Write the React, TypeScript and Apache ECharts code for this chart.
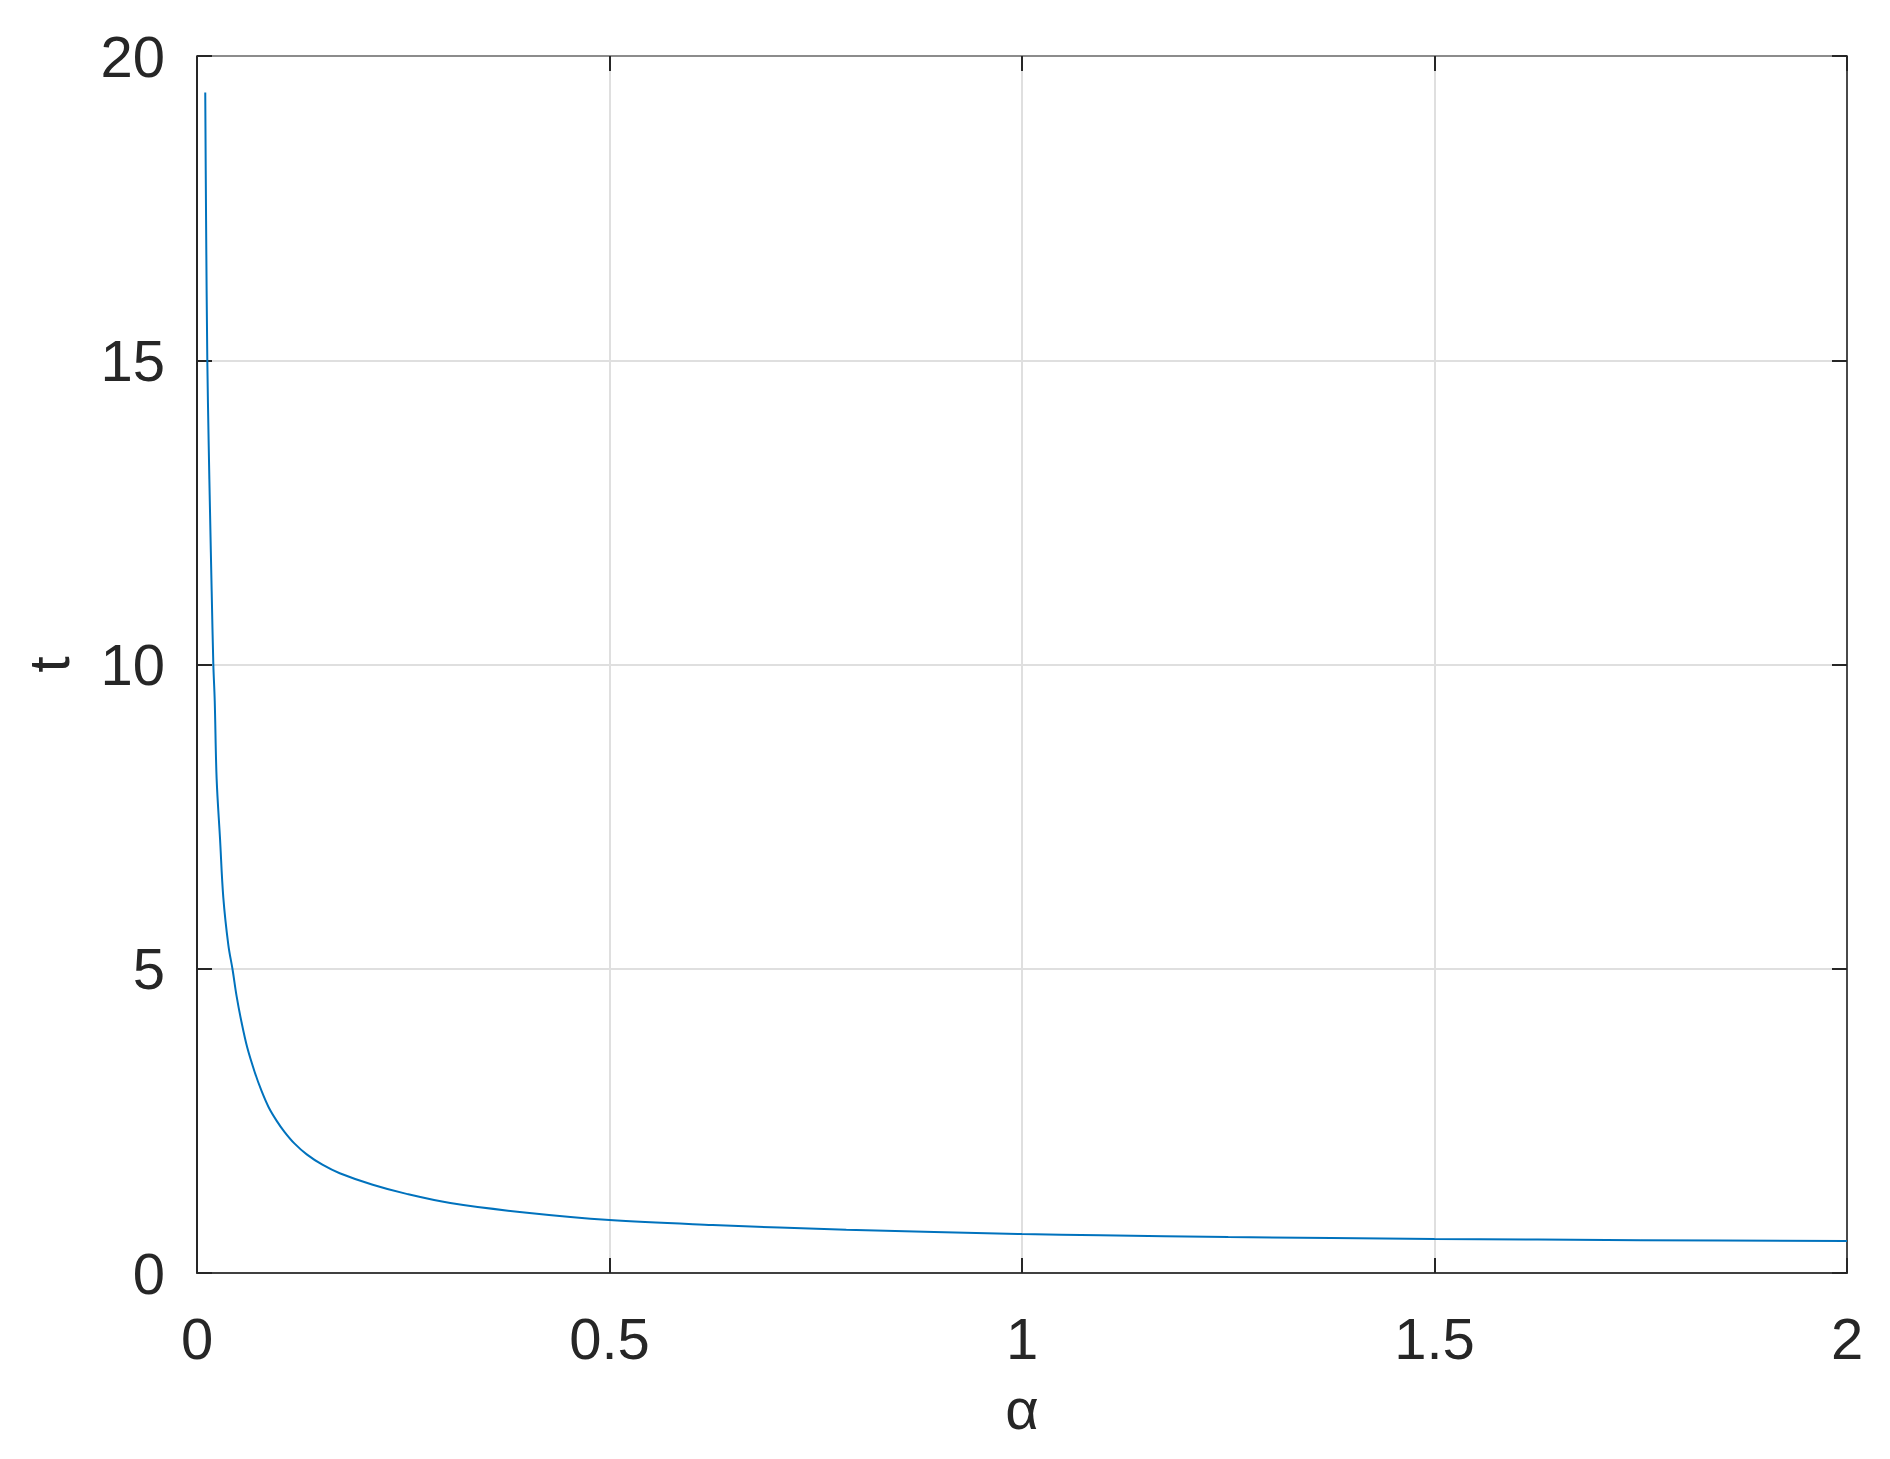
import React, { useEffect, useRef } from "react";
import * as echarts from "echarts";

// Values (α, t)
const alphaValues = [
  0.01, 0.011, 0.0125, 0.0142, 0.0158, 0.0178, 0.0198, 0.0215, 0.0238, 0.0279,
  0.0319, 0.038, 0.0432, 0.048, 0.054, 0.061, 0.07, 0.078, 0.087, 0.0966,
  0.106, 0.118, 0.133, 0.152, 0.173, 0.213, 0.254, 0.307, 0.4, 0.5,
  0.625, 0.787, 1.0, 1.095, 1.25, 1.5, 1.75, 2.0,
];
const tValues = [
  19.4, 17.3, 15.0, 13.6, 12.5, 11.2, 10.0, 9.4, 8.12, 7.14,
  6.17, 5.39, 4.98, 4.55, 4.12, 3.7, 3.3, 3.0, 2.72, 2.5,
  2.32, 2.13, 1.95, 1.78, 1.64, 1.45, 1.3, 1.15, 0.99, 0.87,
  0.79, 0.71, 0.64, 0.62, 0.59, 0.56, 0.54, 0.525,
];
const xTickLabels = ["0", "0.5", "1", "1.5", "2"];
const yTickLabels = ["0", "5", "10", "15", "20"];
const xAxisTitle = "α";
const yAxisTitle = "t";

const FONT = "'Liberation Sans', Arial, Helvetica, sans-serif";
const TEXT = "#262626";

export default function App() {
  const ref = useRef<HTMLDivElement>(null);
  useEffect(() => {
    document.body.style.margin = "0";
    const chart = echarts.init(ref.current!, null, { renderer: "svg" });
    const data = alphaValues.map((a, i) => [a, tValues[i]]);
    const xMin = Number(xTickLabels[0]);
    const xMax = Number(xTickLabels[xTickLabels.length - 1]);
    const xInt = Number(xTickLabels[1]) - xMin;
    const yMin = Number(yTickLabels[0]);
    const yMax = Number(yTickLabels[yTickLabels.length - 1]);
    const yInt = Number(yTickLabels[1]) - yMin;
    const tick = (show: boolean) => ({
      show,
      inside: true,
      length: 15,
      lineStyle: { color: TEXT, width: 2 },
    });
    chart.setOption({
      animation: false,
      backgroundColor: "#ffffff",
      grid: {
        left: 197,
        top: 56,
        right: 43,
        bottom: 186,
        containLabel: false,
        outerBoundsMode: "none",
      },
      xAxis: [
        {
          type: "value",
          min: xMin,
          max: xMax,
          interval: xInt,
          position: "bottom",
          name: xAxisTitle,
          nameLocation: "middle",
          nameGap: 106,
          nameTextStyle: { color: TEXT, fontSize: 58, fontFamily: FONT },
          axisLine: { show: true, onZero: false, lineStyle: { color: "#404040", width: 2 } },
          axisTick: tick(true),
          axisLabel: {
            color: TEXT,
            fontSize: 58,
            fontFamily: FONT,
            margin: 36,
            formatter: (v: number) => xTickLabels[Math.round((v - xMin) / xInt)] ?? "",
          },
          splitLine: { show: true, lineStyle: { color: "#dfdfdf", width: 2 } },
        },
        {
          type: "value",
          min: xMin,
          max: xMax,
          interval: xInt,
          position: "top",
          axisLine: { show: true, onZero: false, lineStyle: { color: "#8c8c8c", width: 2 } },
          axisTick: tick(true),
          axisLabel: { show: false },
          splitLine: { show: false },
        },
      ],
      yAxis: [
        {
          type: "value",
          min: yMin,
          max: yMax,
          interval: yInt,
          position: "left",
          name: yAxisTitle,
          nameLocation: "middle",
          nameRotate: 90,
          nameGap: 120,
          nameTextStyle: { color: TEXT, fontSize: 58, fontFamily: FONT },
          axisLine: { show: true, onZero: false, lineStyle: { color: TEXT, width: 2 } },
          axisTick: tick(true),
          axisLabel: {
            color: TEXT,
            fontSize: 58,
            fontFamily: FONT,
            margin: 32,
            formatter: (v: number) => yTickLabels[Math.round((v - yMin) / yInt)] ?? "",
          },
          splitLine: { show: true, lineStyle: { color: "#dfdfdf", width: 2 } },
        },
        {
          type: "value",
          min: yMin,
          max: yMax,
          interval: yInt,
          position: "right",
          axisLine: { show: true, onZero: false, lineStyle: { color: "#4a4a4a", width: 2 } },
          axisTick: tick(true),
          axisLabel: { show: false },
          splitLine: { show: false },
        },
      ],
      series: [
        {
          type: "line",
          data,
          xAxisIndex: 0,
          yAxisIndex: 0,
          showSymbol: false,
          smooth: 0.35,
          lineStyle: { color: "#0072BD", width: 2 },
          itemStyle: { color: "#0072BD" },
        },
      ],
    });
    return () => chart.dispose();
  }, []);
  return <div ref={ref} style={{ width: 1890, height: 1459 }} />;
}
